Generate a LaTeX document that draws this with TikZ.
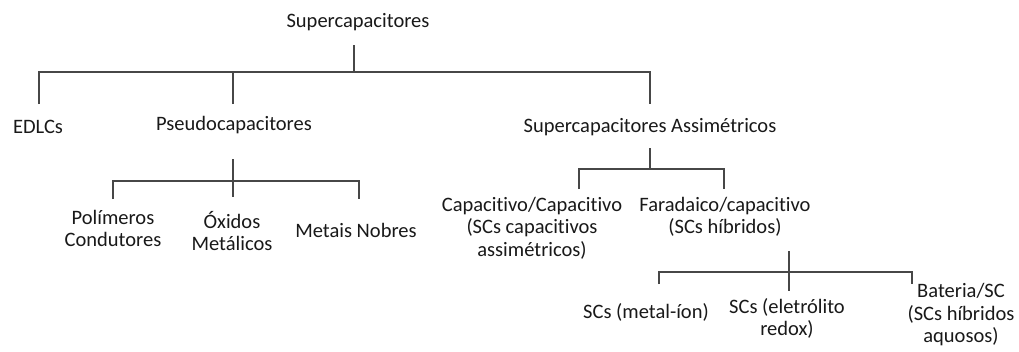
\documentclass[tikz,border=0pt]{standalone}
\usepackage{fontspec}
\setmainfont{Carlito}[Ligatures=NoCommon]
\begin{document}
\begin{tikzpicture}[x=1pt,y=-1pt,
  lbl/.style={inner sep=0pt,align=center,text=black!90,font=\fontsize{20.5}{22.5}\selectfont},
  conn/.style={draw=black!72,line width=1.7pt}]
\useasboundingbox[fill=white] (0,0) rectangle (1019,351);
% nodes
\node[lbl] (sup) at (358,22) {Supercapacitores};
\node[lbl] (edlc) at (38,127) {EDLCs};
\node[lbl] (pseudo) at (234,125) {Pseudocapacitores};
\node[lbl] (assim) at (650,127) {Supercapacitores Assimétricos};
\node[lbl] (pol) at (113,228.5) {Polímeros\\Condutores};
\node[lbl] (oxi) at (232,231) {Óxidos\\Metálicos};
\node[lbl] (met) at (356,230) {Metais Nobres};
\node[lbl] (cap) at (532,228) {Capacitivo/Capacitivo\\(SCs capacitivos\\assimétricos)};
\node[lbl] (far) at (725,217) {Faradaico/capacitivo\\(SCs híbridos)};
\node[lbl] (metal) at (646,312) {SCs (metal-íon)};
\node[lbl] (ele) at (787,318.5) {SCs (eletrólito\\redox)};
\node[lbl] (bat) at (961,315) {Bateria/SC\\(SCs híbridos\\aquosos)};
% junction coordinates
\coordinate (t0) at (354,45);
\coordinate (h0) at (354,72);
\coordinate (d1) at (39,104);
\coordinate (d2) at (233,104);
\coordinate (d3) at (650,104);
\coordinate (p0) at (233,159);
\coordinate (ph) at (233,181);
\coordinate (p1) at (113,199);
\coordinate (p2) at (233,197);
\coordinate (p3) at (359,199);
\coordinate (a0) at (650,148);
\coordinate (ah) at (650,169);
\coordinate (a1) at (579,189);
\coordinate (a2) at (724,189);
\coordinate (f0) at (789,251);
\coordinate (fh) at (789,272);
\coordinate (f2) at (789,291);
\coordinate (f1) at (659,284);
\coordinate (f3) at (912,284);
% connectors
\draw[conn] (t0) -- (h0);
\draw[conn] (d1) |- (h0) -| (d3);
\draw[conn] (d2) -- (d2 |- h0);
\draw[conn] (p0) -- (p2);
\draw[conn] (p1) |- (ph) -| (p3);
\draw[conn] (a0) -- (ah);
\draw[conn] (a1) |- (ah) -| (a2);
\draw[conn] (f0) -- (f2);
\draw[conn] (f1) |- (fh) -| (f3);
\end{tikzpicture}
\end{document}
